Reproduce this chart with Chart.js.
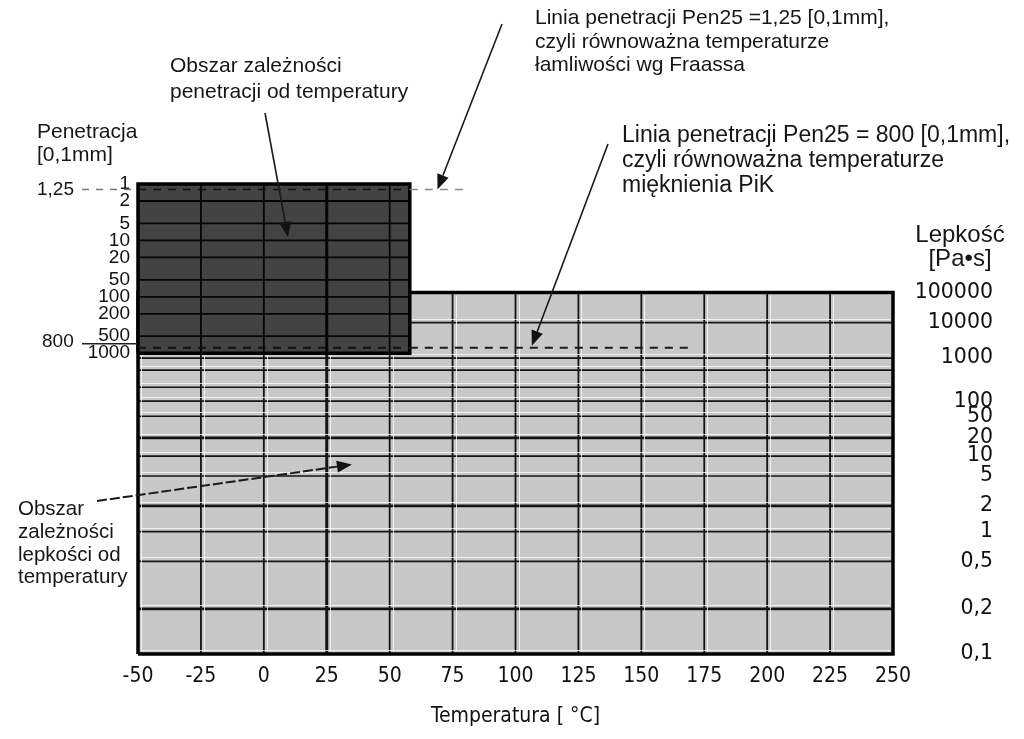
<!DOCTYPE html>
<html><head><meta charset="utf-8">
<script src="https://cdn.jsdelivr.net/npm/chart.js@4.4.1/dist/chart.umd.min.js"></script>
<style>html,body{margin:0;padding:0;background:#fff;}canvas{display:block;}</style>
</head><body>
<canvas id="c" width="1024" height="739"></canvas>
<script>
// ---- data ----
const temperatureTicks = [-50, -25, 0, 25, 50, 75, 100, 125, 150, 175, 200, 225, 250];
const penetrationTicks = [1, 2, 5, 10, 20, 50, 100, 200, 500, 1000];
const viscosityTicks = [100000, 10000, 1000, 100, 50, 20, 10, 5, 2, 1, 0.5, 0.2, 0.1];
const viscosityGrid = [100000, 10000, 1000, 500, 200, 100, 50, 20, 10, 5, 2, 1, 0.5, 0.2, 0.1];
const viscosityHeavy = [20, 2, 0.2];
const temperatureHeavy = [25];
const penetrationZoneTemps = [-50, 58];
const viscosityZoneTemps = [-50, 250];
const fraassPenetration = 1.25;
const fraassTemps = [-50, 58, 81];
const pikPenetration = 800;
const pikTemps = [-50, 58, 170];

// ---- helpers ----
const SANS = "'Liberation Sans', Arial, Helvetica, sans-serif";
const NARROW = "'Liberation Sans Narrow', 'DejaVu Sans Condensed', 'Arial Narrow', sans-serif";
const WIDE = "'DejaVu Sans', 'Liberation Sans', sans-serif";
const fmt = v => String(v).replace('.', ',');
const vt = v => Math.log10(Math.log10(v) + 2.2);   // viscosity (Pa·s) -> linear axis coordinate
const penMin = Math.min(...penetrationTicks), penMax = Math.max(...penetrationTicks);
const visMin = Math.min(...viscosityGrid), visMax = Math.max(...viscosityGrid);
const tMin = viscosityZoneTemps[0], tMax = viscosityZoneTemps[1];
const tPen = penetrationZoneTemps[1];
const PEN_SHARE = 0.36;   // share of plot height used by penetration range
const VIS_SHARE = 1 / 1.3;

const GRID = '#141414', LIGHT = '#c8c8c8', DARK = '#434343';

function seg(axis, pts, o) {
  return Object.assign({
    type: 'line', yAxisID: axis, data: pts.map(([x, y]) => ({x, y})),
    pointRadius: 0, pointHitRadius: 0, borderColor: GRID, borderWidth: 1.8,
    fill: false, tension: 0, clip: false
  }, o);
}

const datasets = [];
// light viscosity region
datasets.push(seg('yVis', [[tMin, vt(visMax)], [tMax, vt(visMax)]],
  {fill: 'start', backgroundColor: LIGHT, borderWidth: 0, order: 100}));
viscosityGrid.filter(v => v !== visMin && v !== visMax).forEach(v => {
  datasets.push(seg('yVis', [[tMin, vt(v)], [tMax, vt(v)]],
    {borderWidth: viscosityHeavy.includes(v) ? 2.8 : 1.7, order: 90}));
});
temperatureTicks.filter(t => t > tMin && t < tMax).forEach(t => {
  datasets.push(seg('yVis', [[t, vt(visMin)], [t, vt(visMax)]],
    {borderWidth: temperatureHeavy.includes(t) ? 3 : 1.8, order: 90}));
});
const lightBorder = seg('yVis', [[tMin, vt(visMin)], [tMin, vt(visMax)], [tMax, vt(visMax)], [tMax, vt(visMin)], [tMin, vt(visMin)]],
  {borderWidth: 3.5, borderColor: '#000', order: 85});
datasets.push(lightBorder);
// dark penetration region
datasets.push(seg('yPen', [[tMin, penMin], [tPen, penMin]],
  {fill: {value: penMax}, backgroundColor: DARK, borderWidth: 0, order: 80}));
penetrationTicks.filter(p => p !== penMin && p !== penMax).forEach(p => {
  datasets.push(seg('yPen', [[tMin, p], [tPen, p]], {borderWidth: 1.8, borderColor: '#050505', order: 70}));
});
temperatureTicks.filter(t => t > tMin && t < tPen).forEach(t => {
  datasets.push(seg('yPen', [[t, penMin], [t, penMax]],
    {borderWidth: temperatureHeavy.includes(t) ? 3 : 1.8, borderColor: '#050505', order: 70}));
});
datasets.push(seg('yPen', [[tMin, penMax], [tMin, penMin], [tPen, penMin], [tPen, penMax], [tMin, penMax]],
  {borderWidth: 3.5, borderColor: '#000', order: 65}));
// dashed reference lines
datasets.push(seg('yPen', fraassTemps.map(t => [t, fraassPenetration]),
  {borderWidth: 1.6, borderDash: [8, 7], order: 60,
   segment: {borderColor: c => c.p0.parsed.x < tPen ? '#111' : '#8a8a8a'}}));
datasets.push(seg('yPen', pikTemps.map(t => [t, pikPenetration]),
  {borderWidth: 2, borderDash: [8, 7], order: 60,
   segment: {borderColor: c => c.p0.parsed.x < tPen ? '#111' : '#1a1a1a'}}));
const lightBorderIndex = datasets.indexOf(lightBorder);

// measure right-axis labels
const VIS_FONT_SIZE = 20.5;

function arrow(ctx, x1, y1, x2, y2, dash) {
  const a = Math.atan2(y2 - y1, x2 - x1), L = 15, W = 6;
  const bx = x2 - L * Math.cos(a), by = y2 - L * Math.sin(a);
  ctx.setLineDash(dash || []);
  ctx.beginPath(); ctx.moveTo(x1, y1); ctx.lineTo(bx, by); ctx.stroke();
  ctx.setLineDash([]);
  ctx.beginPath(); ctx.moveTo(x2, y2);
  ctx.lineTo(bx + W * Math.sin(a), by - W * Math.cos(a));
  ctx.lineTo(bx - W * Math.sin(a), by + W * Math.cos(a));
  ctx.closePath(); ctx.fill();
}

// faint light edges next to the grid lines of the viscosity area (printed-chart look)
const paperEdges = {
  id: 'paperEdges',
  afterDatasetDraw(chart, args) {
    if (args.index !== lightBorderIndex) return;
    const {ctx, scales: {x, yVis}} = chart;
    const L = x.getPixelForValue(tMin), R = x.getPixelForValue(tMax);
    const T = yVis.getPixelForValue(vt(visMax)), B = yVis.getPixelForValue(vt(visMin));
    ctx.save();
    ctx.strokeStyle = 'rgba(255,255,255,0.75)'; ctx.lineWidth = 1;
    viscosityGrid.filter(v => v !== visMax).forEach(v => {
      const y = Math.round(yVis.getPixelForValue(vt(v))) - 3.5;
      ctx.beginPath(); ctx.moveTo(L + 3, y); ctx.lineTo(R - 3, y); ctx.stroke();
    });
    temperatureTicks.filter(t => t < tMax).forEach(t => {
      const xx = Math.round(x.getPixelForValue(t)) + 3.5;
      ctx.beginPath(); ctx.moveTo(xx, T + 3); ctx.lineTo(xx, B - 3); ctx.stroke();
    });
    ctx.restore();
  }
};

const annotations = {
  id: 'annotations',
  afterDraw(chart) {
    const {ctx, scales: {x, yPen, yVis}} = chart;
    ctx.save();
    ctx.fillStyle = '#161616'; ctx.strokeStyle = '#161616';
    ctx.textBaseline = 'alphabetic';
    const lines = (arr, x0, y0, lh, size, align) => {
      ctx.font = size + 'px ' + SANS; ctx.textAlign = align || 'left';
      arr.forEach((s, i) => ctx.fillText(s, x0, y0 + i * lh));
    };
    // axis headers
    lines(['Penetracja', '[0,1mm]'], 37, 138, 23, 21);
    lines(['Lepkość', '[Pa•s]'], 960, 242, 24, 24, 'center');
    // annotation texts
    lines(['Obszar zależności', 'penetracji od temperatury'], 170, 72, 26, 21);
    lines(['Linia penetracji Pen25 =1,25 [0,1mm],', 'czyli równoważna temperaturze', 'łamliwości wg Fraassa'], 535, 24, 23.5, 21);
    lines(['Linia penetracji Pen25 = 800 [0,1mm],', 'czyli równoważna temperaturze', 'mięknienia PiK'], 622, 142, 25, 23);
    lines(['Obszar', 'zależności', 'lepkości od', 'temperatury'], 18, 515, 22.8, 20.5);
    // left-side markers for the dashed lines
    const yF = yPen.getPixelForValue(fraassPenetration);
    const yP = yPen.getPixelForValue(pikPenetration);
    lines(['1,25'], 37, yF + 6, 0, 19);
    lines(['800'], 42, yP - 1, 0, 19);
    ctx.lineWidth = 1.5;
    ctx.strokeStyle = '#777'; ctx.setLineDash([7, 7]);
    ctx.beginPath(); ctx.moveTo(82, yF); ctx.lineTo(chart.chartArea.left, yF); ctx.stroke();
    ctx.strokeStyle = '#222'; ctx.setLineDash([]);
    ctx.beginPath(); ctx.moveTo(82, yP - 4); ctx.lineTo(chart.chartArea.left, yP - 4); ctx.stroke();
    // arrows
    ctx.strokeStyle = '#1a1a1a'; ctx.fillStyle = '#111'; ctx.lineWidth = 1.6;
    arrow(ctx, 265, 113, x.getPixelForValue(9.6), yPen.getPixelForValue(8.7));
    arrow(ctx, 502, 24, x.getPixelForValue(69), yF);
    arrow(ctx, 608, 144, x.getPixelForValue(106.5), yP - 2);
    ctx.lineWidth = 2;
    arrow(ctx, 97, 501, x.getPixelForValue(35), yVis.getPixelForValue(vt(7.4)), [10, 3]);
    ctx.restore();
  }
};

new Chart(document.getElementById('c'), {
  type: 'line',
  data: {datasets},
  options: {
    responsive: false, animation: false, events: [],
    layout: {padding: {top: 184, left: 0, right: 31, bottom: 0}},
    plugins: {legend: {display: false}, tooltip: {enabled: false}},
    scales: {
      x: {
        type: 'linear', min: tMin, max: tMax,
        afterBuildTicks: s => { s.ticks = temperatureTicks.map(v => ({value: v})); },
        grid: {display: false, drawTicks: false}, border: {display: false},
        ticks: {font: {family: NARROW, size: 21}, color: '#111', padding: 10, maxRotation: 0, autoSkip: false,
                callback: v => fmt(v)},
        title: {display: true, text: 'Temperatura [ °C]', font: {family: NARROW, size: 21}, color: '#111',
                padding: {top: 0, bottom: 10}},
        afterFit: s => { s.height = 85; }
      },
      yPen: {
        type: 'logarithmic', position: 'left', reverse: true, min: penMin,
        max: Math.pow(10, Math.log10(penMax / penMin) / PEN_SHARE) * penMin,
        bounds: 'data',
        afterBuildTicks: s => { s.ticks = penetrationTicks.map(v => ({value: v})); },
        grid: {display: false, drawTicks: false}, border: {display: false},
        ticks: {font: {family: SANS, size: 19}, color: '#111', padding: 8, autoSkip: false,
                callback: v => fmt(v)},
        afterFit: s => { s.width = 138; }
      },
      yVis: {
        type: 'linear', position: 'right', min: vt(visMin),
        max: vt(visMin) + (vt(visMax) - vt(visMin)) / VIS_SHARE,
        afterBuildTicks: s => { s.ticks = viscosityTicks.map(v => ({value: vt(v)})); },
        grid: {display: false, drawTicks: false}, border: {display: false},
        ticks: {font: {family: WIDE, size: VIS_FONT_SIZE}, color: '#111', autoSkip: false,
                crossAlign: 'far', padding: 10,
                callback: (v, i) => fmt(viscosityTicks[i])},
        afterFit: s => { s.width = 100; }
      }
    }
  },
  plugins: [paperEdges, annotations]
});
</script>
</body></html>
